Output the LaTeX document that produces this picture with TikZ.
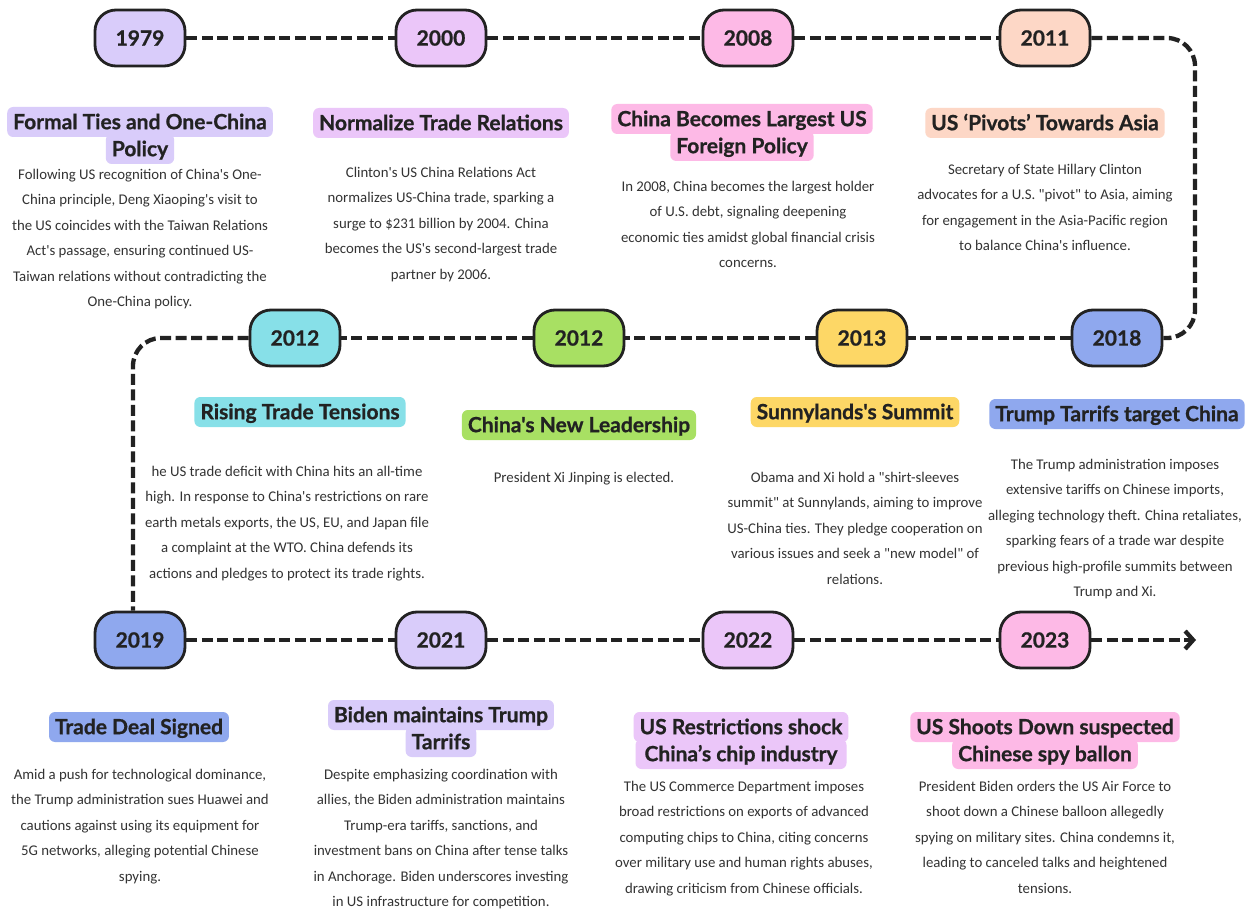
\documentclass[tikz,border=0pt]{standalone}
\usepackage{fontspec}
\setmainfont{Lato}
\newfontfamily\bodyfont{Carlito}
\newfontfamily\heavyfont{Lato}[BoldFeatures={FakeBold=0.8}]
\usepackage{tikz}
\usepackage{xcolor}
\usetikzlibrary{arrows.meta}
\definecolor{lav}{HTML}{D9CCFA}
\definecolor{lilac}{HTML}{EBC6F9}
\definecolor{pinky}{HTML}{FDB9E6}
\definecolor{peach}{HTML}{FDD7C6}
\definecolor{aqua}{HTML}{87E0E8}
\definecolor{lime}{HTML}{A8E063}
\definecolor{sun}{HTML}{FDD766}
\definecolor{periw}{HTML}{8FA8EE}
\definecolor{ink}{HTML}{222222}
\definecolor{bodygray}{HTML}{333333}

\begin{document}
\begin{tikzpicture}[x=1pt,y=-1pt,
        year/.style={draw=ink, line width=2.8pt, rounded corners=21pt, minimum width=90pt, minimum height=56pt, font=\heavyfont\fontsize{21}{21}\selectfont\bfseries, text=ink},
        ttl/.style={rounded corners=6pt, inner xsep=6pt, inner ysep=0pt, text height=22.2pt, text depth=7.8pt, font=\heavyfont\fontsize{21}{22}\selectfont\bfseries, text=ink},
        txt/.style={anchor=north, align=center, text=bodygray, inner sep=0pt, font=\bodyfont\fontsize{14.8}{25.5}\selectfont},
        tline/.style={draw=ink, line width=4.3pt, dash pattern=on 11pt off 4.5pt}]
                \useasboundingbox (0,0) rectangle (1254,912);
                \fill[white] (0,0) rectangle (1254,912);
                % years
                \node[year, fill=lav] (y1979) at (140,38) {1979};
                \node[year, fill=lilac] (y2000) at (441,38) {2000};
                \node[year, fill=pinky] (y2008) at (748,38) {2008};
                \node[year, fill=peach] (y2011) at (1045,38) {2011};
                \node[year, fill=aqua] (y2012a) at (295,338) {2012};
                \node[year, fill=lime] (y2012b) at (579,338) {2012};
                \node[year, fill=sun] (y2013) at (862,338) {2013};
                \node[year, fill=periw] (y2018) at (1117,338) {2018};
                \node[year, fill=periw] (y2019) at (140,640) {2019};
                \node[year, fill=lav] (y2021) at (441,640) {2021};
                \node[year, fill=lilac] (y2022) at (748,640) {2022};
                \node[year, fill=pinky] (y2023) at (1045,640) {2023};
                \coordinate (rtop) at (1195,38);
                \coordinate (rbot) at (1195,338);
                \coordinate (ltop) at (133,338);
                \coordinate (tip) at (1196,640);
                % dashed timeline
                \draw[tline] (y1979) -- (y2000);
                \draw[tline] (y2000) -- (y2008);
                \draw[tline] (y2008) -- (y2011);
                \draw[tline, rounded corners=28pt] (y2011) -- (rtop) -- (rbot) -- (y2018);
                \draw[tline] (y2018) -- (y2013);
                \draw[tline] (y2013) -- (y2012b);
                \draw[tline] (y2012b) -- (y2012a);
                \draw[tline, rounded corners=28pt] (y2012a) -- (ltop) -- (ltop |- y2019.north);
                \draw[tline] (y2019) -- (y2021);
                \draw[tline] (y2021) -- (y2022);
                \draw[tline] (y2022) -- (y2023);
                \draw[tline, -{Straight Barb[length=8pt,width=18pt]}] (y2023) -- (tip);
                % titles
                \node[ttl, fill=lav] (t1979b) at (140,149) {Policy};
                \node[ttl, fill=lav] (t1979a) at (140,122) {Formal Ties and One-China};
                \node[ttl, fill=lilac] (t2000) at (441,123) {Normalize Trade Relations};
                \node[ttl, fill=pinky] (t2008b) at (742,146) {Foreign Policy};
                \node[ttl, fill=pinky] (t2008a) at (742,119) {China Becomes Largest US};
                \node[ttl, fill=peach] (t2011) at (1045,123) {US ‘Pivots’ Towards Asia};
                \node[ttl, fill=aqua] (t2012a) at (300,412) {Rising Trade Tensions};
                \node[ttl, fill=lime] (t2012b) at (579,425) {China's New Leadership};
                \node[ttl, fill=sun] (t2013) at (855,412) {Sunnylands's Summit};
                \node[ttl, fill=periw] (t2018) at (1117,414) {Trump Tarrifs target China};
                \node[ttl, fill=periw] (t2019) at (139,727) {Trade Deal Signed};
                \node[ttl, fill=lav] (t2021b) at (441,742) {Tarrifs};
                \node[ttl, fill=lav] (t2021a) at (441,715) {Biden maintains Trump};
                \node[ttl, fill=lilac, minimum width=211pt] (t2022b) at (741,754) {China’s chip industry};
                \node[ttl, fill=lilac, minimum width=211pt] (t2022a) at (741,727) {US Restrictions shock};
                \node[ttl, fill=pinky] (t2023b) at (1045,754) {Chinese spy ballon};
                \node[ttl, fill=pinky] (t2023a) at (1045,727) {US Shoots Down suspected};
                % descriptions
                \node[txt] (b1979) at (140,169) {Following US recognition of China's One-\\China principle, Deng Xiaoping's visit to\\the US coincides with the Taiwan Relations\\Act's passage, ensuring continued US-\\Taiwan relations without contradicting the\\One-China policy.};
                \node[txt] (b2000) at (441,167) {Clinton's US China Relations Act\\normalizes US-China trade, sparking a\\surge to \$231 billion by 2004. China\\becomes the US's second-largest trade\\partner by 2006.};
                \node[txt] (b2008) at (748,181) {In 2008, China becomes the largest holder\\of U.S. debt, signaling deepening\\economic ties amidst global financial crisis\\concerns.};
                \node[txt] (b2011) at (1045,164) {Secretary of State Hillary Clinton\\advocates for a U.S. "pivot" to Asia, aiming\\for engagement in the Asia-Pacific region\\to balance China's influence.};
                \node[txt] (b2012a) at (287,466) {he US trade deficit with China hits an all-time\\high. In response to China's restrictions on rare\\earth metals exports, the US, EU, and Japan file\\a complaint at the WTO. China defends its\\actions and pledges to protect its trade rights.};
                \node[txt] (b2012b) at (584,472) {President Xi Jinping is elected.};
                \node[txt] (b2013) at (855,472) {Obama and Xi hold a "shirt-sleeves\\summit" at Sunnylands, aiming to improve\\US-China ties. They pledge cooperation on\\various issues and seek a "new model" of\\relations.};
                \node[txt] (b2018) at (1115,459) {The Trump administration imposes\\extensive tariffs on Chinese imports,\\alleging technology theft. China retaliates,\\sparking fears of a trade war despite\\previous high-profile summits between\\Trump and Xi.};
                \node[txt] (b2019) at (140,769) {Amid a push for technological dominance,\\the Trump administration sues Huawei and\\cautions against using its equipment for\\5G networks, alleging potential Chinese\\spying.};
                \node[txt] (b2021) at (441,769) {Despite emphasizing coordination with\\allies, the Biden administration maintains\\Trump-era tariffs, sanctions, and\\investment bans on China after tense talks\\in Anchorage. Biden underscores investing\\in US infrastructure for competition.};
                \node[txt] (b2022) at (744,781) {The US Commerce Department imposes\\broad restrictions on exports of advanced\\computing chips to China, citing concerns\\over military use and human rights abuses,\\drawing criticism from Chinese officials.};
                \node[txt] (b2023) at (1045,781) {President Biden orders the US Air Force to\\shoot down a Chinese balloon allegedly\\spying on military sites. China condemns it,\\leading to canceled talks and heightened\\tensions.};
\end{tikzpicture}
\end{document}
